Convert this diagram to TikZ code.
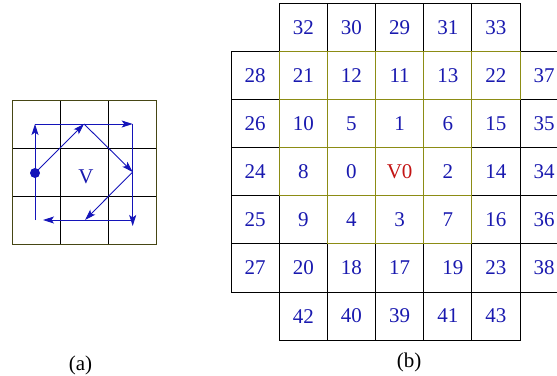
\documentclass[tikz,border=0pt]{standalone}
\usepackage{fontspec}
\setmainfont{Liberation Serif}
\usetikzlibrary{arrows.meta}
\definecolor{numblue}{RGB}{25,25,175}
\definecolor{pathblue}{RGB}{20,20,185}
\definecolor{vred}{RGB}{195,20,20}
\definecolor{gridolive}{RGB}{140,140,20}
\definecolor{darkolive}{RGB}{70,70,20}
\tikzset{
  cellbox/.style={draw=black, line width=0.9pt, minimum width=48.17pt, minimum height=48.1pt,
    inner sep=0pt, outer sep=0pt, text=numblue, font=\fontsize{21}{24}\selectfont},
  acell/.style={draw=black, line width=0.9pt, minimum width=48pt, minimum height=48pt,
    inner sep=0pt, outer sep=0pt},
  oliveline/.style={draw=gridolive, line width=0.9pt},
  aborder/.style={draw=darkolive, line width=0.9pt},
  bluearrow/.style={draw=pathblue, line width=0.9pt, -{Stealth[length=11pt,width=7pt,inset=2.5pt]}},
  vlabel/.style={text=numblue, font=\fontsize{21}{24}\selectfont, inner sep=0pt},
  caption/.style={text=black, font=\fontsize{21}{24}\selectfont, inner sep=0pt}
}
\begin{document}
\begin{tikzpicture}[x=1pt,y=-1pt]
\useasboundingbox (0,0) rectangle (557,375);
\clip (0,0) rectangle (557,375);

% ---------- panel (a) ----------
\foreach \r in {0,1,2}{
  \foreach \c in {0,1,2}{
    \node[acell] (a\r\c) at ({36+48*\c},{124+48*\r}) {};
  }
}
\draw[aborder] (a00.north west) rectangle (a22.south east);
\node[vlabel] (vtext) at (86,177) {V};

\coordinate (pStart) at (35,173);
\coordinate (pLB) at (35,220);
\coordinate (pTL) at (35,124);
\coordinate (pTR) at (132.7,124);
\coordinate (pRB) at (132.7,226);
\coordinate (pRB2) at (132.7,220);
\coordinate (pBL) at (43,220);
\coordinate (pTop) at (84,124);
\coordinate (pRight) at (132.7,172);
\coordinate (pBot) at (85,220);

\draw[bluearrow] (pLB) -- (pTL);
\draw[bluearrow] (pTL) -- (pTR);
\draw[bluearrow] (pTR) -- (pRB);
\draw[bluearrow] (pRB2) -- (pBL);
\draw[bluearrow] (pStart) -- (pTop);
\draw[bluearrow] (pTop) -- (pRight);
\draw[bluearrow] (pRight) -- (pBot);
\fill[pathblue] (pStart) circle (5pt);

\node[caption] (capa) at (80.5,365) {(a)};

% ---------- panel (b) ----------
\foreach \lab [count=\i] in {32,30,29,31,33}
  \node[cellbox] (b0\i) at ({255.1+48.17*\i},27.45) {\lab};
\foreach \lab [count=\i from 0] in {28,21,12,11,13,22,37}
  \node[cellbox] (b1\i) at ({255.1+48.17*\i},75.55) {\lab};
\foreach \lab [count=\i from 0] in {26,10,5,1,6,15,35}
  \node[cellbox] (b2\i) at ({255.1+48.17*\i},123.65) {\lab};
\foreach \lab [count=\i from 0] in {24,8,0,{\textcolor{vred}{V0}},2,14,34}
  \node[cellbox] (b3\i) at ({255.1+48.17*\i},171.75) {\lab};
\foreach \lab [count=\i from 0] in {25,9,4,3,7,16,36}
  \node[cellbox] (b4\i) at ({255.1+48.17*\i},219.85) {\lab};
\foreach \lab [count=\i from 0] in {27,20,18,17,{\hspace{10pt}19},23,38}
  \node[cellbox] (b5\i) at ({255.1+48.17*\i},267.95) {\lab};
\foreach \lab [count=\i] in {42,40,39,41,43}
  \node[cellbox] (b6\i) at ({255.1+48.17*\i},316.05) {\lab};

\foreach \n in {b11,b12,b13,b14,b15,b21,b22,b23,b24,b31,b32,b33,b34,b42,b43,b44}
  \draw[oliveline] (\n.north west) rectangle (\n.south east);

\node[caption] (capb) at (409,362.5) {(b)};
\end{tikzpicture}
\end{document}
